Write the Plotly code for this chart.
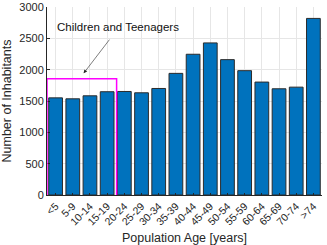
import plotly.graph_objects as go

categories = ["<5", "5-9", "10-14", "15-19", "20-24", "25-29", "30-34", "35-39",
              "40-44", "45-49", "50-54", "55-59", "60-64", "65-69", "70-74", ">74"]
inhabitants = [1550, 1535, 1583, 1648, 1652, 1631, 1700, 1941,
               2246, 2427, 2160, 1984, 1802, 1695, 1721, 2818]
y_ticks = [0, 500, 1000, 1500, 2000, 2500, 3000]
annotation_text = "Children and Teenagers"

font_family = "Liberation Sans, Arial, sans-serif"
tick_color = "#262626"

fig = go.Figure()
fig.add_trace(go.Bar(
    x=categories, y=inhabitants,
    marker=dict(color="#0072BD", line=dict(color="#2b2b2b", width=1)),
    width=0.8,
))

fig.add_shape(type="rect", xref="x", yref="y", x0=-0.5, x1=3.55, y0=-45, y1=1855,
              line=dict(color="#FF00FF", width=1.5), fillcolor="rgba(0,0,0,0)")

fig.add_annotation(x=1.63, y=1941, ax=3.2, ay=2503, xref="x", yref="y", axref="x", ayref="y",
                   text="", showarrow=True, arrowhead=2, arrowsize=1.2, arrowwidth=0.6,
                   arrowcolor="#262626")
fig.add_annotation(x=3.61, y=2680, xref="x", yref="y", text=annotation_text, showarrow=False,
                   font=dict(family=font_family, size=11.5, color="#111111"))

fig.update_layout(
    width=327, height=245,
    margin=dict(l=47, r=5, t=7, b=50, autoexpand=False),
    paper_bgcolor="white", plot_bgcolor="white",
    showlegend=False,
    font=dict(family=font_family, color=tick_color),
    bargap=0.2,
)
fig.update_xaxes(
    type="category", range=[-0.5, 15.5], automargin=False,
    tickangle=-45, tickfont=dict(size=10.5, color=tick_color),
    showgrid=True, gridcolor="#e6e6e6", gridwidth=1,
    showline=True, linecolor="#262626", linewidth=1,
    ticks="inside", ticklen=2, tickcolor="#262626",
    title=dict(text="Population Age [years]", font=dict(size=12.5, color=tick_color)),
)
fig.update_yaxes(
    range=[0, 3000], tickvals=y_ticks, tickfont=dict(size=11, color=tick_color),
    automargin=False,
    showgrid=True, gridcolor="#e6e6e6", gridwidth=1,
    showline=True, linecolor="#262626", linewidth=1,
    ticks="inside", ticklen=3, tickcolor="#262626",
    zeroline=False,
    title=dict(text="Number of Inhabitants", font=dict(size=12.5, color=tick_color)),
)

fig.write_html("out.html", config={"displayModeBar": False},
               post_script="document.body.style.margin='0';document.body.style.overflow='hidden';")
